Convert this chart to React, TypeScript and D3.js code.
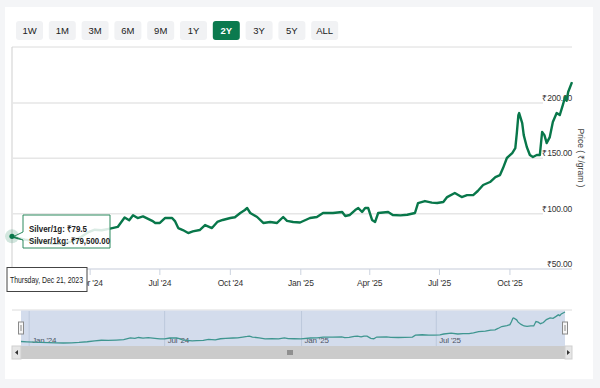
import React from 'react';
import * as d3 from 'd3';

// silver price, ₹ per gram
const dates = [
  '2023-12-21', '2023-12-29', '2024-01-07', '2024-01-16', '2024-01-27', '2024-02-06', '2024-02-16', '2024-02-27',
  '2024-03-08', '2024-03-19', '2024-03-29', '2024-04-07', '2024-04-16', '2024-04-27', '2024-05-07', '2024-05-16',
  '2024-05-22', '2024-05-27', '2024-06-02', '2024-06-09', '2024-06-15', '2024-06-21', '2024-06-25', '2024-07-01',
  '2024-07-08', '2024-07-17', '2024-07-21', '2024-07-25', '2024-07-31', '2024-08-07', '2024-08-13', '2024-08-22',
  '2024-08-29', '2024-09-07', '2024-09-14', '2024-09-21', '2024-10-01', '2024-10-07', '2024-10-14', '2024-10-20',
  '2024-10-23', '2024-10-27', '2024-11-05', '2024-11-13', '2024-11-22', '2024-12-01', '2024-12-09', '2024-12-14',
  '2024-12-22', '2024-12-31', '2025-01-13', '2025-01-22', '2025-01-30', '2025-02-12', '2025-02-24', '2025-02-28',
  '2025-03-06', '2025-03-13', '2025-03-17', '2025-03-22', '2025-03-26', '2025-03-30', '2025-04-04', '2025-04-08',
  '2025-04-12', '2025-04-25', '2025-05-01', '2025-05-11', '2025-05-20', '2025-05-30', '2025-06-03', '2025-06-12',
  '2025-06-21', '2025-06-28', '2025-07-06', '2025-07-11', '2025-07-21', '2025-07-30', '2025-08-06', '2025-08-14',
  '2025-08-20', '2025-08-27', '2025-09-05', '2025-09-12', '2025-09-18', '2025-09-22', '2025-09-27', '2025-10-04',
  '2025-10-08', '2025-10-10', '2025-10-12', '2025-10-13', '2025-10-17', '2025-10-19', '2025-10-23', '2025-10-27',
  '2025-10-31', '2025-11-05', '2025-11-09', '2025-11-12', '2025-11-15', '2025-11-18', '2025-11-22', '2025-11-26',
  '2025-12-01', '2025-12-05', '2025-12-09', '2025-12-12', '2025-12-14', '2025-12-16', '2025-12-21',
];
const prices = [
  79.5, 78.0, 76.5, 75.5, 74.5, 73.5, 72.5, 73.0,
  75.0, 78.5, 83.0, 85.5, 85.0, 86.5, 88.0, 96.5,
  94.0, 98.5, 96.0, 97.5, 95.5, 93.5, 91.6, 91.6,
  96.1, 96.1, 93.0, 87.0, 85.2, 82.5, 84.0, 85.2,
  89.7, 87.0, 92.5, 94.3, 96.1, 96.8, 100.6, 103.3,
  105.1, 100.6, 97.0, 91.6, 92.5, 91.6, 97.0, 93.5,
  92.5, 92.0, 96.1, 97.0, 100.6, 100.6, 101.5, 97.9,
  98.8, 103.3, 105.1, 101.5, 105.1, 105.1, 94.3, 92.5,
  100.6, 101.5, 98.8, 98.5, 99.0, 100.6, 109.6, 111.4,
  110.0, 109.6, 110.5, 115.0, 118.7, 115.0, 116.8, 116.8,
  120.5, 125.9, 128.6, 133.1, 134.9, 141.2, 150.3, 154.8,
  159.3, 172.9, 189.1, 190.9, 181.9, 171.0, 160.2, 153.0,
  151.2, 153.0, 153.0, 173.8, 171.0, 163.8, 169.2, 182.8,
  190.9, 189.1, 198.1, 205.4, 202.0, 209.9, 218.9,
];
const ranges = ['1W', '1M', '3M', '6M', '9M', '1Y', '2Y', '3Y', '5Y', 'ALL'];
const activeRange = '2Y';
const yTicks = [50, 100, 150, 200];
const xTicks = ['2024-04-01', '2024-07-01', '2024-10-01', '2025-01-01', '2025-04-01', '2025-07-01', '2025-10-01'];
const navTicks = ['2024-01-01', '2024-07-01', '2025-01-01', '2025-07-01'];

const parse = d3.timeParse('%Y-%m-%d');
const data = dates.map((d, i) => ({ date: parse(d) as Date, value: prices[i] }));

const FONT = '"Liberation Sans", Arial, sans-serif';
const GREEN = '#08774a';

export default function App() {
  const extent = d3.extent(data, (d) => d.date) as [Date, Date];

  const x = d3.scaleTime().domain(extent).range([12, 572]);
  const y = d3.scaleLinear().domain([50, 200]).range([269, 103]);
  const line = d3.line<{ date: Date; value: number }>()
    .x((d) => x(d.date))
    .y((d) => y(d.value));

  const nx = d3.scaleTime().domain(extent).range([21, 565]);
  const ny = d3.scaleLinear()
    .domain(d3.extent(data, (d) => d.value) as [number, number])
    .range([343, 312]);
  const navLine = d3.line<{ date: Date; value: number }>()
    .x((d) => nx(d.date))
    .y((d) => ny(d.value));

  const fmtTick = d3.timeFormat("%b '%y");
  const first = data[0];
  const mx = x(first.date);
  const my = y(first.value);

  return (
    <div style={{ position: 'fixed', left: 0, top: 0 }}>
      <svg width={600} height={388} style={{ display: 'block', fontFamily: FONT }}>
        <rect width={600} height={388} fill="#f4f5f7" />
        <rect x={5} y={7} width={588} height={372} fill="#fff" />

        {/* range buttons */}
        {ranges.map((r, i) => {
          const bx = 16 + i * 32.8;
          const on = r === activeRange;
          return (
            <g key={r}>
              <rect x={bx} y={21} width={27} height={19} rx={3} fill={on ? '#0b7a4e' : '#f1f2f4'} />
              <text x={bx + 13.5} y={34} textAnchor="middle" fontSize={9.5}
                fontWeight={on ? 'bold' : 'normal'} fill={on ? '#fff' : '#222'}>{r}</text>
            </g>
          );
        })}

        {/* plot frame + grid */}
        <line x1={12} x2={572} y1={47} y2={47} stroke="#dcdcdc" />
        <line x1={12} x2={12} y1={47} y2={269} stroke="#cfcfcf" />
        {yTicks.map((t) => (
          <g key={t}>
            {t > 50 && <line x1={12} x2={543} y1={y(t)} y2={y(t)} stroke="#e6e6e6" strokeWidth={1.5} />}
            <text x={572} y={y(t) - 2} textAnchor="end" fontSize={8.5} fill="#333" letterSpacing={-0.2}>
              {'₹' + d3.format(',.2f')(t)}
            </text>
          </g>
        ))}
        <line x1={12} x2={572} y1={269} y2={269} stroke="#d8dde6" strokeWidth={1.5} />
        {xTicks.map((t) => {
          const tx = x(parse(t) as Date);
          return (
            <g key={t}>
              <line x1={tx} x2={tx} y1={269} y2={275} stroke="#ccd3df" />
              <text x={tx} y={286} textAnchor="middle" fontSize={8.5} fill="#333" letterSpacing={-0.2}>
                {fmtTick(parse(t) as Date)}
              </text>
            </g>
          );
        })}
        <text transform="translate(578,158) rotate(90)" textAnchor="middle" fontSize={8.5} fill="#444">
          Price ( ₹/gram )
        </text>

        <path d={line(data) ?? ''} fill="none" stroke={GREEN} strokeWidth={2.4} strokeLinejoin="round" />

        {/* hover marker + tooltip */}
        <circle cx={mx} cy={my} r={7} fill={GREEN} opacity={0.18} />
        <circle cx={mx} cy={my} r={2.6} fill={GREEN} />
        <path d={`M23,215 H110 V248 H23 V240 L${mx + 2},${my} L23,232 Z`}
          fill="#fff" fillOpacity={0.85} stroke="#2c8a5f" strokeWidth={1} />
        <text x={29} y={232} fontSize={9} fontWeight="bold" fill="#222"
          textLength={58} lengthAdjust="spacingAndGlyphs">Silver/1g: ₹79.5</text>
        <text x={29} y={244} fontSize={9} fontWeight="bold" fill="#222"
          textLength={81} lengthAdjust="spacingAndGlyphs">Silver/1kg: ₹79,500.00</text>
        <rect x={7} y={267.5} width={80} height={24} fill="#fff" stroke="#444" />
        <text x={10} y={283} fontSize={8.5} fill="#222"
          textLength={73} lengthAdjust="spacingAndGlyphs">Thursday, Dec 21, 2023</text>

        {/* navigator */}
        <line x1={12} x2={572} y1={310} y2={310} stroke="#dcdcdc" />
        <rect x={21} y={310.5} width={544} height={35.5} fill="#d3dcec" />
        {navTicks.map((t) => {
          const tx = nx(parse(t) as Date);
          return (
            <g key={t}>
              <line x1={tx} x2={tx} y1={311} y2={346} stroke="#bcc8dc" />
              <text x={tx + 3} y={343} fontSize={8} fill="#4d5566" letterSpacing={-0.2}>
                {fmtTick(parse(t) as Date)}
              </text>
            </g>
          );
        })}
        <path d={navLine(data) ?? ''} fill="none" stroke="#3f9690" strokeWidth={1.3} />
        {[21, 565].map((hx) => (
          <g key={hx}>
            <rect x={hx - 2.5} y={322} width={5} height={12} fill="#f6f6f6" stroke="#8a8a8a" />
            <line x1={hx} x2={hx} y1={325} y2={331} stroke="#8a8a8a" />
          </g>
        ))}

        {/* scrollbar */}
        <rect x={12} y={346} width={560} height={13} fill="#cbcbcb" />
        <rect x={12} y={346} width={9} height={13} fill="#e6e6e6" stroke="#cfcfcf" />
        <rect x={565} y={346} width={7} height={13} fill="#e6e6e6" stroke="#cfcfcf" />
        <path d="M15,352.5 L18,350 L18,355 Z" fill="#333" />
        <path d="M570,352.5 L567,350 L567,355 Z" fill="#333" />
        {[-2, 0, 2].map((o) => (
          <line key={o} x1={290 + o} x2={290 + o} y1={350} y2={355} stroke="#555" />
        ))}
      </svg>
    </div>
  );
}
